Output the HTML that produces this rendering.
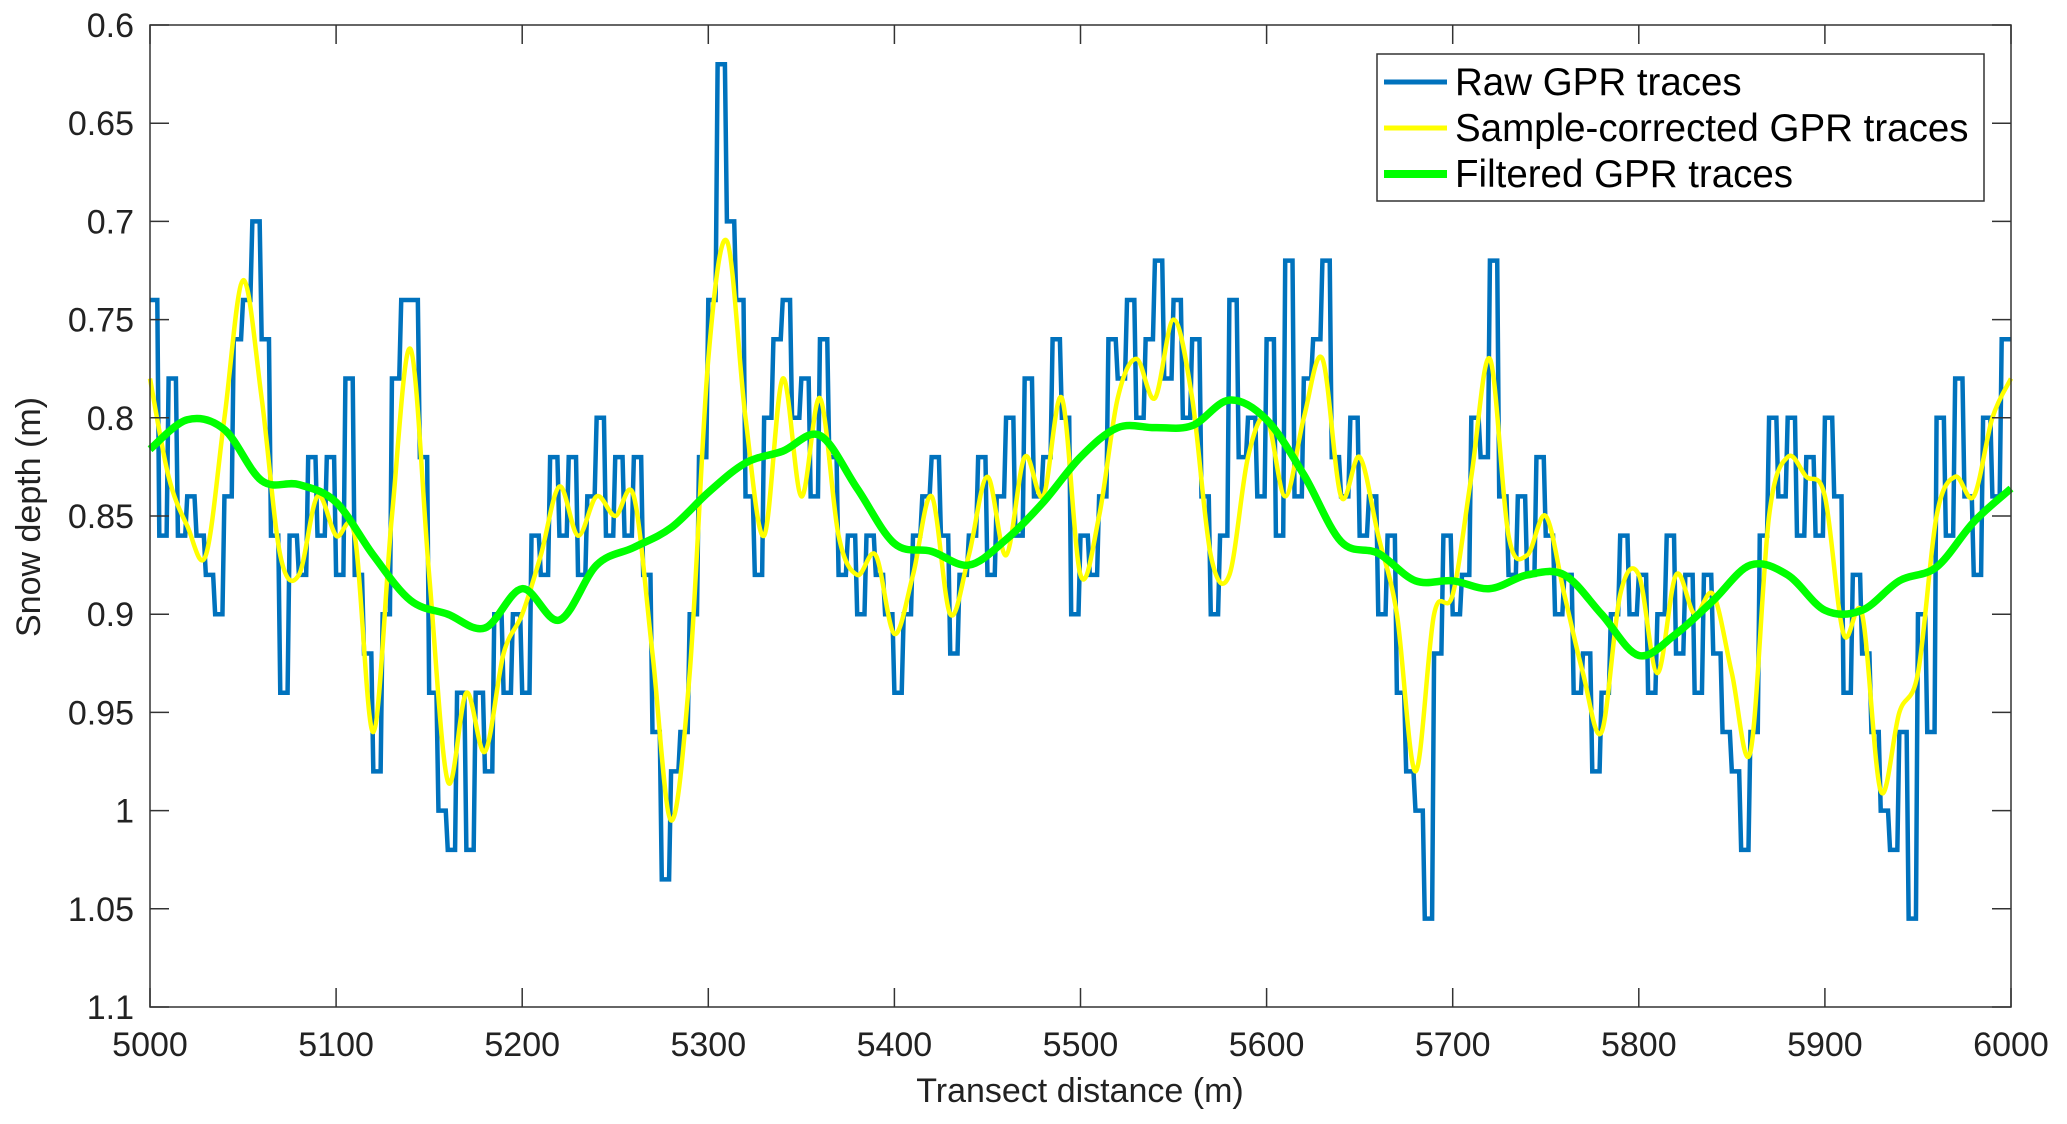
<!DOCTYPE html>
<html><head><meta charset="utf-8"><style>
html,body{margin:0;padding:0;background:#fff}
svg{display:block;font-family:"Liberation Sans",Arial,sans-serif}
</style></head><body>
<svg id="chart" width="2067" height="1124" viewBox="0 0 2067 1124">
<rect x="0" y="0" width="2067" height="1124" fill="#fff"/>
<g id="plot"></g>
<g id="axes"></g>
<g id="legend">
<rect x="1377" y="54" width="607" height="147" fill="#fff" stroke="#333" stroke-width="1.5"/>
<line x1="1384" y1="82" x2="1447" y2="82" stroke="#0072BD" stroke-width="5"/>
<text x="1455" y="95" font-size="38.5" fill="#000">Raw GPR traces</text>
<line x1="1384" y1="128" x2="1447" y2="128" stroke="#FFFF00" stroke-width="5"/>
<text x="1455" y="141" font-size="38.5" fill="#000">Sample-corrected GPR traces</text>
<line x1="1384" y1="174" x2="1447" y2="174" stroke="#00FF00" stroke-width="8"/>
<text x="1455" y="187" font-size="38.5" fill="#000">Filtered GPR traces</text>
</g>
<text x="1080" y="1102" font-size="34" text-anchor="middle" fill="#222">Transect distance (m)</text>
<text transform="translate(40,517) rotate(-90)" font-size="34" text-anchor="middle" fill="#222">Snow depth (m)</text>
</svg>
<script>
const xTicks = [5000,5100,5200,5300,5400,5500,5600,5700,5800,5900,6000];
const yTicks = [0.6,0.65,0.7,0.75,0.8,0.85,0.9,0.95,1,1.05,1.1];
const yTickLabels = ["0.6","0.65","0.7","0.75","0.8","0.85","0.9","0.95","1","1.05","1.1"];
const rawStart = 5000, rawStep = 5;
const rawValues = [0.74,0.86,0.78,0.86,0.84,0.86,0.88,0.90,0.84,0.76,0.74,0.70,0.76,0.86,0.94,0.86,0.88,0.82,0.86,0.82,0.88,0.78,0.88,0.92,0.98,0.90,0.78,0.74,0.74,0.82,0.94,1.00,1.02,0.94,1.02,0.94,0.98,0.90,0.94,0.90,0.94,0.86,0.88,0.82,0.86,0.82,0.88,0.84,0.80,0.86,0.82,0.86,0.82,0.88,0.96,1.035,0.98,0.96,0.90,0.82,0.74,0.62,0.70,0.74,0.84,0.88,0.80,0.76,0.74,0.80,0.78,0.84,0.76,0.82,0.88,0.86,0.90,0.86,0.88,0.90,0.94,0.90,0.86,0.84,0.82,0.86,0.92,0.88,0.86,0.82,0.88,0.84,0.80,0.86,0.78,0.84,0.82,0.76,0.80,0.90,0.86,0.88,0.84,0.76,0.78,0.74,0.80,0.76,0.72,0.78,0.74,0.80,0.76,0.84,0.90,0.86,0.74,0.82,0.80,0.84,0.76,0.86,0.72,0.84,0.78,0.76,0.72,0.82,0.84,0.80,0.86,0.84,0.90,0.86,0.94,0.98,1.00,1.055,0.92,0.86,0.90,0.88,0.80,0.82,0.72,0.84,0.88,0.84,0.88,0.82,0.86,0.90,0.88,0.94,0.92,0.98,0.94,0.90,0.86,0.90,0.88,0.94,0.90,0.86,0.92,0.88,0.94,0.88,0.92,0.96,0.98,1.02,0.96,0.86,0.80,0.84,0.80,0.86,0.82,0.86,0.80,0.84,0.94,0.88,0.92,0.96,1.00,1.02,0.96,1.055,0.90,0.96,0.80,0.86,0.78,0.84,0.88,0.80,0.84,0.76,0.76];
const corrStart = 5000, corrStep = 10;
const corrValues = [0.78,0.83,0.855,0.87,0.80,0.73,0.79,0.87,0.88,0.84,0.86,0.86,0.96,0.85,0.765,0.88,0.985,0.94,0.97,0.92,0.90,0.87,0.835,0.86,0.84,0.85,0.84,0.92,1.005,0.93,0.77,0.71,0.80,0.86,0.78,0.84,0.79,0.86,0.88,0.87,0.91,0.88,0.84,0.90,0.87,0.83,0.87,0.82,0.84,0.79,0.88,0.85,0.79,0.77,0.79,0.75,0.79,0.87,0.88,0.82,0.80,0.84,0.80,0.77,0.84,0.82,0.86,0.90,0.98,0.90,0.89,0.83,0.77,0.86,0.87,0.85,0.89,0.93,0.96,0.89,0.88,0.93,0.88,0.90,0.89,0.93,0.97,0.85,0.82,0.83,0.84,0.91,0.90,0.99,0.95,0.93,0.85,0.83,0.84,0.80,0.78];
const filtStart = 5000, filtStep = 20;
const filtValues = [0.816,0.801,0.806,0.832,0.834,0.843,0.870,0.893,0.900,0.907,0.887,0.903,0.875,0.866,0.856,0.838,0.823,0.817,0.809,0.836,0.864,0.868,0.875,0.862,0.843,0.820,0.805,0.805,0.804,0.791,0.801,0.829,0.863,0.869,0.883,0.883,0.887,0.880,0.880,0.900,0.921,0.910,0.893,0.875,0.880,0.898,0.898,0.883,0.876,0.853,0.836];

const L=150,R=2011,T=25,B=1007;
const X = v => L + (v-5000)/1000*(R-L);
const Y = v => T + (v-0.6)/0.5*(B-T);
const NS='http://www.w3.org/2000/svg';
const plot=document.getElementById('plot'), axes=document.getElementById('axes');
function mk(tag,attrs,parent){const e=document.createElementNS(NS,tag);for(const k in attrs)e.setAttribute(k,attrs[k]);parent.appendChild(e);return e;}
function smooth(pts){let d=`M${pts[0][0]},${pts[0][1]}`;for(let i=0;i<pts.length-1;i++){const p0=pts[i-1]||pts[i],p1=pts[i],p2=pts[i+1],p3=pts[i+2]||p2;d+=` C${p1[0]+(p2[0]-p0[0])/6},${p1[1]+(p2[1]-p0[1])/6} ${p2[0]-(p3[0]-p1[0])/6},${p2[1]-(p3[1]-p1[1])/6} ${p2[0]},${p2[1]}`;}return d;}
let d='';rawValues.forEach((v,i)=>{const x=X(rawStart+i*rawStep),y=Y(v);if(i===0)d=`M${x},${y}`;else d+=` L${x-2},${Y(rawValues[i-1])} L${x},${y}`;});
const raw=mk('path',{d:d,fill:'none',stroke:'#0072BD','stroke-width':4.5,'stroke-linejoin':'miter'},plot);


const corr=mk('path',{d:smooth(corrValues.map((v,i)=>[X(corrStart+i*corrStep),Y(v)])),fill:'none',stroke:'#FFFF00','stroke-width':4.5},plot);


const filt=mk('path',{d:smooth(filtValues.map((v,i)=>[X(filtStart+i*filtStep),Y(v)])),fill:'none',stroke:'#00FF00','stroke-width':7.5},plot);


const box=mk('rect',{x:L,y:T,width:R-L,height:B-T,fill:'none',stroke:'#333','stroke-width':1.5},axes);


xTicks.forEach(t=>{const x=X(t);
mk('line',{x1:x,y1:B,x2:x,y2:B-19,stroke:'#333','stroke-width':1.5},axes);
mk('line',{x1:x,y1:T,x2:x,y2:T+19,stroke:'#333','stroke-width':1.5},axes);
const tx=mk('text',{x:x,y:1056,'font-size':34,'text-anchor':'middle',fill:'#222'},axes);tx.textContent=t;


});
yTicks.forEach((t,i)=>{const y=Y(t);
mk('line',{x1:L,y1:y,x2:L+19,y2:y,stroke:'#333','stroke-width':1.5},axes);
mk('line',{x1:R,y1:y,x2:R-19,y2:y,stroke:'#333','stroke-width':1.5},axes);
const tx=mk('text',{x:134,y:y+12,'font-size':34,'text-anchor':'end',fill:'#222'},axes);tx.textContent=yTickLabels[i];


});
</script>
</body></html>
